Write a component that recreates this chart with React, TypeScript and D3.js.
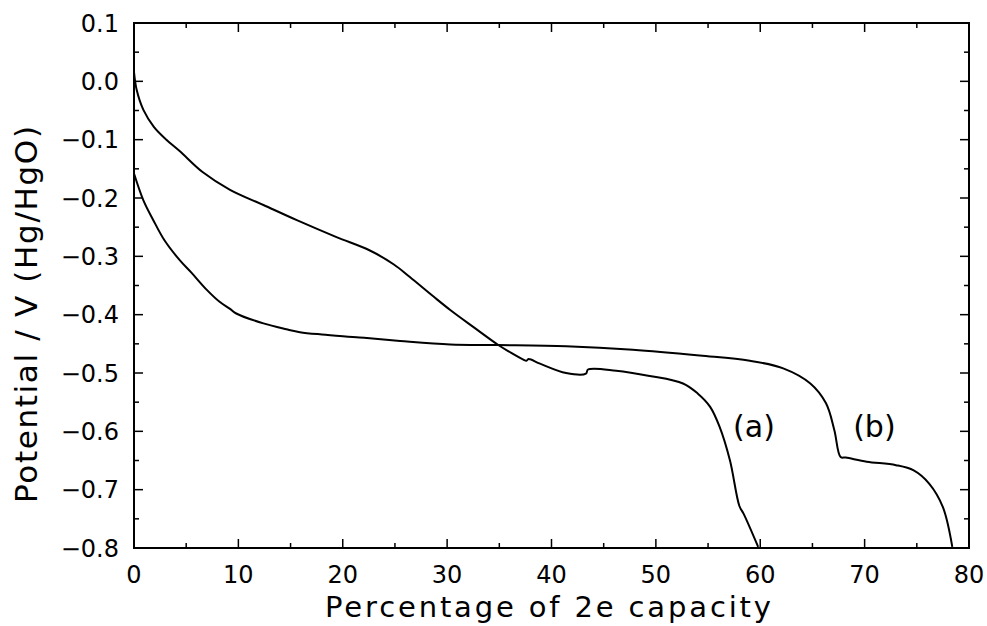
import React from "react";
import * as d3 from "d3";

const xTicks = [0, 10, 20, 30, 40, 50, 60, 70, 80];
const yTicks = [0.1, 0.0, -0.1, -0.2, -0.3, -0.4, -0.5, -0.6, -0.7, -0.8];

const aX = [0, 0.26, 0.9, 1.9, 3.1, 4.4, 6.6, 9.2, 12.4, 15.6, 19.4, 22.6, 24.9, 26.4, 28.7, 30.3, 32.5, 34.9, 36.0, 37.3, 37.6, 37.8, 38.9, 41.4, 43.3, 43.5, 46.2, 49.4, 52.6, 54.0, 55.2, 56.1, 57.1, 58.0, 58.4, 59.8];
const aY = [0.016, -0.015, -0.049, -0.078, -0.10, -0.120, -0.156, -0.186, -0.212, -0.238, -0.267, -0.290, -0.314, -0.335, -0.369, -0.392, -0.421, -0.452, -0.464, -0.477, -0.479, -0.476, -0.484, -0.500, -0.501, -0.494, -0.496, -0.505, -0.518, -0.535, -0.558, -0.592, -0.650, -0.728, -0.741, -0.798];

const bX = [0, 0.9, 1.85, 2.9, 4.4, 5.5, 7.0, 8.2, 9.2, 9.8, 12.4, 14.6, 15.9, 18.0, 21.6, 25.5, 30.3, 34.9, 41.4, 47.8, 54.2, 59.0, 62.2, 64.8, 66.3, 67.1, 67.7, 68.2, 70.2, 73.0, 74.7, 76.2, 77.5, 78.4];
const bY = [-0.158, -0.204, -0.238, -0.272, -0.307, -0.328, -0.358, -0.378, -0.390, -0.398, -0.415, -0.425, -0.430, -0.434, -0.439, -0.445, -0.451, -0.452, -0.454, -0.460, -0.470, -0.479, -0.492, -0.518, -0.552, -0.598, -0.644, -0.645, -0.652, -0.658, -0.667, -0.690, -0.730, -0.798];

const seriesLabels = ["(a)", "(b)"];
const labelPos = [[57.4, -0.61], [68.9, -0.61]];

export default function App() {
  const W = 987, H = 626;
  const L = 134, R = 969, T = 23, B = 548;
  const x = d3.scaleLinear().domain([0, 80]).range([L, R]);
  const y = d3.scaleLinear().domain([-0.8, 0.1]).range([B, T]);
  const line = d3.line<number[]>().x(d => x(d[0])).y(d => y(d[1])).curve(d3.curveCatmullRom.alpha(0.5));
  const aPts = aX.map((v, i) => [v, aY[i]]);
  const bPts = bX.map((v, i) => [v, bY[i]]);
  const font = "'DejaVu Sans', sans-serif";
  const xMinor = d3.range(0, 80.01, 5);
  const yMinor = d3.range(-0.8, 0.1001, 0.05);
  const fmt = (v: number) => (Math.abs(v) < 1e-9 ? "0.0" : d3.format(".1f")(v).replace("-", "\u2212"));
  return (
    <svg width={W} height={H} style={{ position: "absolute", left: 0, top: 0, background: "#fff" }} fontFamily={font}>
      <rect x={0} y={0} width={W} height={H} fill="#fff" />
      {xMinor.map((v, i) => {
        const major = Math.round(v) % 10 === 0;
        const len = major ? 9 : 5;
        return (
          <g key={"xt" + i} stroke="#000" strokeWidth={1.5}>
            <line x1={x(v)} x2={x(v)} y1={B} y2={B - len} />
            <line x1={x(v)} x2={x(v)} y1={T} y2={T + len} />
          </g>
        );
      })}
      {yMinor.map((v, i) => {
        const major = i % 2 === 0;
        const len = major ? 9 : 5;
        return (
          <g key={"yt" + i} stroke="#000" strokeWidth={1.5}>
            <line x1={L} x2={L + len} y1={y(v)} y2={y(v)} />
            <line x1={R} x2={R - len} y1={y(v)} y2={y(v)} />
          </g>
        );
      })}
      <rect x={L} y={T} width={R - L} height={B - T} fill="none" stroke="#000" strokeWidth={2} />
      {xTicks.map(v => (
        <text key={"xl" + v} x={x(v)} y={583} textAnchor="middle" fontSize={24} fill="#000">{v}</text>
      ))}
      {yTicks.map(v => (
        <text key={"yl" + v} x={119} y={y(v)} dy="0.36em" textAnchor="end" fontSize={24} fill="#000">{fmt(v)}</text>
      ))}
      <path d={line(aPts) || ""} fill="none" stroke="#000" strokeWidth={2} />
      <path d={line(bPts) || ""} fill="none" stroke="#000" strokeWidth={2} />
      {seriesLabels.map((s, i) => (
        <text key={s} x={x(labelPos[i][0])} y={y(labelPos[i][1])} fontSize={30} fill="#000">{s}</text>
      ))}
      <text x={548} y={617} textAnchor="middle" fontSize={29} fill="#000" textLength={446} lengthAdjust="spacing">Percentage of 2e capacity</text>
      <text transform={`translate(37,314.5) rotate(-90)`} textAnchor="middle" fontSize={31} fill="#000" textLength={377} lengthAdjust="spacing">Potential / V (Hg/HgO)</text>
    </svg>
  );
}
